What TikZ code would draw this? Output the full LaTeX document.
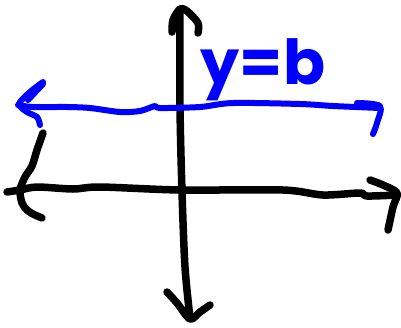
\documentclass[tikz,border=0pt]{standalone}
\usepackage{fontspec}
\newfontfamily\handfont{Poppins}
\definecolor{penblue}{RGB}{0,0,255}
\begin{document}
\begin{tikzpicture}[x=1pt,y=-1pt,
  ink/.style={line width=7.5pt,line cap=round,line join=round,black},
  blueink/.style={line width=6pt,line cap=round,line join=round,penblue}]
\useasboundingbox (0,0) rectangle (401,327);
% vertical axis
\draw[ink] plot[smooth] coordinates {(180,12) (180,107) (182,192) (185,267) (190,318)};
\draw[ink] plot[smooth] coordinates {(172,32) (173,20) (180,9) (187,11) (198,23) (198,33)};
\draw[ink] plot[smooth] coordinates {(167,292) (177,303) (190,319) (200,312) (210,305)};
% horizontal axis
\draw[ink] plot[smooth] coordinates {(7,192) (20,190) (37,187) (73,189) (100,187) (180,190) (283,190) (323,195) (360,193) (367,196) (397,195)};
\draw[ink] plot[smooth] coordinates {(370,180) (383,185) (397,193) (393,207) (388,230)};
\draw[ink] plot[smooth] coordinates {(43,133) (37,150) (32,166) (25,177) (20,190) (22,203) (27,210) (33,214) (42,218)};
% blue line y=b
\draw[blueink] plot[smooth] coordinates {(18,105) (33,107) (67,107) (90,108) (120,112) (140,111) (155,106) (160,108) (200,107) (233,103) (300,104) (333,106) (380,108)};
\draw[blueink] plot[smooth] coordinates {(357,103) (380,106) (377,123) (373,134)};
\draw[blueink] plot[smooth] coordinates {(43,82) (30,92) (19,104) (27,112) (37,117) (40,125)};
\draw[blueink] plot[smooth] coordinates {(43,84) (28,100)};
% label
\node[penblue,font=\handfont\bfseries\fontsize{62}{62}\selectfont,anchor=base] (label) at (263,84) {y=b};
\end{tikzpicture}
\end{document}
